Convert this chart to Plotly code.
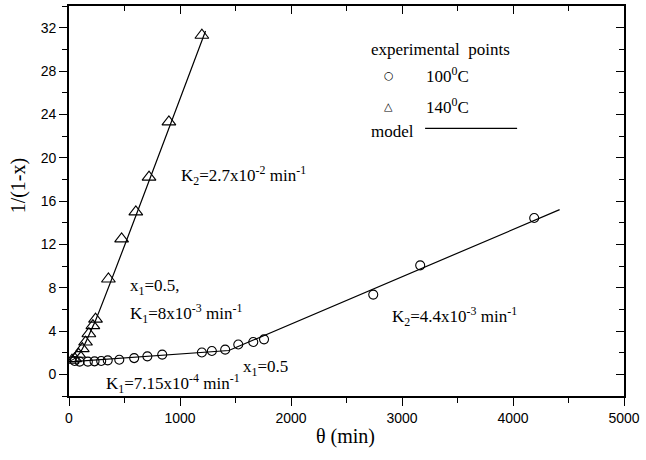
import plotly.graph_objects as go

# 100 °C experimental points
t100 = [51, 96, 170, 230, 290, 349, 453, 587, 706, 840, 1197, 1287, 1407, 1525, 1660, 1757, 2741, 3164, 4191]
y100 = [1.23, 1.17, 1.17, 1.2, 1.23, 1.29, 1.35, 1.5, 1.66, 1.82, 2.02, 2.15, 2.28, 2.75, 2.98, 3.23, 7.36, 10.06, 14.43]

# 140 °C experimental points
t140 = [27, 51, 87, 120, 149, 179, 215, 239, 355, 474, 602, 721, 900, 1197]
y140 = [1.3, 1.45, 1.85, 2.37, 2.98, 3.75, 4.5, 5.1, 8.8, 12.5, 15.0, 18.2, 23.3, 31.3]

# model curves
mt100 = [0, 1440, 4420]
my100 = [1.15, 2.2, 15.2]
mt140 = [0, 50, 100, 150, 200, 240, 1230]
my140 = [1.2, 1.45, 2.0, 2.95, 4.1, 5.0, 31.7]

xticks = [0, 1000, 2000, 3000, 4000, 5000]
yticks = [0, 4, 8, 12, 16, 20, 24, 28, 32]

SERIF = "Liberation Serif, 'Times New Roman', Times, serif"
SANS = "Liberation Sans, Arial, sans-serif"

fig = go.Figure()
fig.add_trace(go.Scatter(x=mt100, y=my100, mode="lines", line=dict(color="black", width=1.2), showlegend=False))
fig.add_trace(go.Scatter(x=mt140, y=my140, mode="lines", line=dict(color="black", width=1.2, shape="spline"), showlegend=False))
fig.add_trace(go.Scatter(x=t100, y=y100, mode="markers",
                         marker=dict(symbol="circle-open", size=9, color="black", line=dict(width=1.1)), showlegend=False))
fig.add_trace(go.Scatter(x=t140, y=y140, mode="markers",
                         marker=dict(symbol="triangle-up-open", size=12, color="black", line=dict(width=1.1)), showlegend=False))
# invisible trace to activate mirror axes
fig.add_trace(go.Scatter(x=[None], y=[None], xaxis="x2", yaxis="y2", showlegend=False))

axis_common = dict(showgrid=False, zeroline=False, showline=True, linecolor="black", linewidth=1.6,
                   tickcolor="black", tickwidth=1.4)
fig.update_layout(
    width=646, height=460,
    margin=dict(l=69, r=18, t=6, b=64),
    paper_bgcolor="white", plot_bgcolor="white",
    xaxis=dict(range=[0, 5000], tickvals=xticks, ticks="outside", ticklen=8,
               minor=dict(dtick=500, ticks="outside", ticklen=5, tickcolor="black", tickwidth=1.4),
               tickfont=dict(family=SANS, size=14, color="black"), **axis_common),
    yaxis=dict(range=[-2, 34], tickvals=yticks, ticks="outside", ticklen=8,
               minor=dict(dtick=2, ticks="outside", ticklen=5, tickcolor="black", tickwidth=1.4),
               tickfont=dict(family=SANS, size=14, color="black"), **axis_common),
    xaxis2=dict(range=[0, 5000], overlaying="x", side="top", tickvals=xticks, ticks="inside", ticklen=8,
                minor=dict(dtick=500, ticks="inside", ticklen=5, tickcolor="black", tickwidth=1.4),
                showticklabels=False, **axis_common),
    yaxis2=dict(range=[-2, 34], overlaying="y", side="right", tickvals=yticks, ticks="inside", ticklen=8,
                minor=dict(dtick=2, ticks="inside", ticklen=5, tickcolor="black", tickwidth=1.4),
                showticklabels=False, **axis_common),
)

def ann(text, x, y, size=17, xanchor="left", family=SERIF, **kw):
    fig.add_annotation(text=text, x=x, y=y, xref="x", yref="y", showarrow=False, xanchor=xanchor,
                       yanchor="middle", font=dict(family=family, size=size, color="black"), **kw)

ann("K<sub>2</sub>=2.7x10<sup>-2</sup> min<sup>-1</sup>", 989, 18.4)
ann("x<sub>1</sub>=0.5,", 527, 8.1)
ann("K<sub>1</sub>=8x10<sup>-3</sup> min<sup>-1</sup>", 527, 5.6)
ann("K<sub>1</sub>=7.15x10<sup>-4</sup> min<sup>-1</sup>", 319, -0.85)
ann("x<sub>1</sub>=0.5", 1550, 0.55)
ann("K<sub>2</sub>=4.4x10<sup>-3</sup> min<sup>-1</sup>", 2890, 5.3)

# legend block
ann("experimental  points", 2702, 30.0)
ann("○", 2881, 27.6, size=11, xanchor="center", family="DejaVu Sans")
ann("100<sup>0</sup>C", 3200, 27.6)
ann("△", 2881, 24.75, size=11, xanchor="center", family="DejaVu Sans")
ann("140<sup>0</sup>C", 3200, 24.75)
ann("model", 2702, 22.4)
fig.add_shape(type="line", xref="x", yref="y", x0=3208, x1=4037, y0=22.7, y1=22.7,
              line=dict(color="black", width=1.2))

# axis titles
fig.add_annotation(text="θ (min)", xref="paper", yref="paper", x=0.499, y=-0.105, showarrow=False,
                   xanchor="center", yanchor="middle", font=dict(family=SERIF, size=20, color="black"))
fig.add_annotation(text="1/(1-x)", xref="paper", yref="paper", x=(18 - 69) / 559, y=(396 - 185) / 390,
                   showarrow=False, textangle=-90, xanchor="center", yanchor="middle",
                   font=dict(family=SERIF, size=20, color="black"))

fig.write_html("out.html")
